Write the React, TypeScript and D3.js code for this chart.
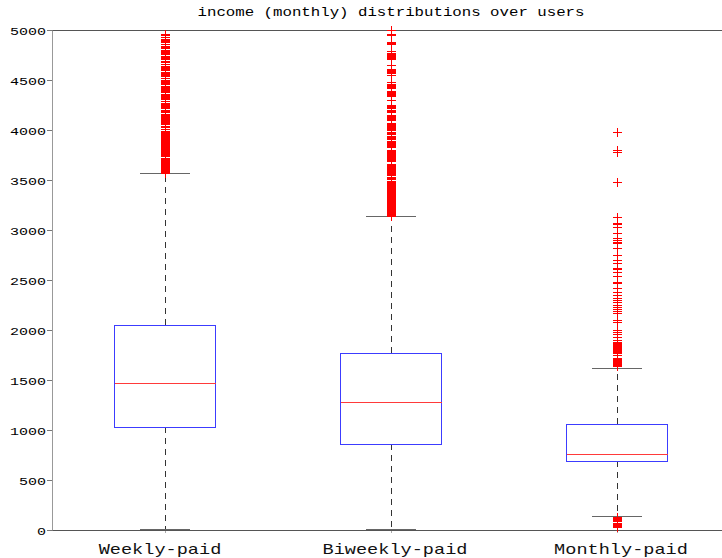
import React, { useEffect, useRef } from "react";
import * as d3 from "d3";

// box statistics (income, monthly)
const categories = ["Weekly-paid", "Biweekly-paid", "Monthly-paid"];
const q1 = [1027, 860, 690];
const medians = [1470, 1273, 753];
const q3 = [2047, 1767, 1060];
const whiskerLow = [8, 3, 133];
const whiskerHigh = [3567, 3133, 1617];
const yTicks = [0, 500, 1000, 1500, 2000, 2500, 3000, 3500, 4000, 4500, 5000];

// outliers ('+' markers), one array per group
const weeklyOutliers = [
  4960, 4950, 4930, 4910, 4900, 4890, 4880, 4860, 4840, 4830, 4820, 4800, 4790, 4780,
  4770, 4760, 4740, 4730, 4720, 4710, 4690, 4680, 4660, 4640, 4630, 4620, 4610, 4600,
  4580, 4570, 4560, 4550, 4540, 4520, 4500, 4490, 4480, 4470, 4460, 4440, 4430, 4420,
  4410, 4400, 4390, 4380, 4360, 4350, 4340, 4330, 4320, 4310, 4290, 4270, 4260, 4250,
  4240, 4230, 4220, 4200, 4190, 4180, 4160, 4150, 4140, 4130, 4120, 4110, 4100, 4090,
  4080, 4070, 4060, 4040, 4030, 4010, 3990, 3980, 3970, 3960, 3950, 3940, 3930, 3920,
  3910, 3900, 3890, 3880, 3870, 3860, 3850, 3840, 3830, 3820, 3810, 3800, 3790, 3780,
  3770, 3760, 3750, 3740, 3720, 3710, 3700, 3690, 3680, 3670, 3660, 3650, 3640, 3630,
  3620, 3610, 3600, 3590, 3580, 3570,
];
const biweeklyOutliers = [
  5000, 4960, 4950, 4880, 4870, 4860, 4790, 4770, 4760, 4750, 4740, 4730, 4720, 4710,
  4650, 4610, 4600, 4590, 4580, 4570, 4550, 4480, 4460, 4450, 4440, 4430, 4420, 4390,
  4380, 4370, 4360, 4350, 4340, 4300, 4250, 4240, 4230, 4220, 4200, 4190, 4180, 4150,
  4140, 4130, 4120, 4110, 4100, 4070, 4060, 4050, 4040, 4030, 4020, 4010, 4000, 3980,
  3970, 3960, 3940, 3930, 3920, 3910, 3890, 3880, 3870, 3860, 3850, 3840, 3830, 3800,
  3790, 3780, 3770, 3760, 3750, 3740, 3730, 3720, 3710, 3700, 3690, 3660, 3650, 3640,
  3630, 3620, 3610, 3600, 3590, 3580, 3570, 3560, 3550, 3530, 3520, 3510, 3490, 3480,
  3470, 3460, 3450, 3440, 3430, 3420, 3410, 3400, 3390, 3380, 3370, 3360, 3350, 3340,
  3330, 3320, 3310, 3300, 3290, 3280, 3270, 3260, 3250, 3240, 3230, 3220, 3210, 3200,
  3190, 3180, 3170, 3160, 3150, 3140,
];
const monthlyOutliers = [
  3980, 3800, 3780, 3480, 3130, 3070, 3060, 3030, 2970, 2920, 2900, 2880, 2870, 2820,
  2750, 2700, 2670, 2620, 2610, 2580, 2540, 2480, 2470, 2420, 2380, 2350, 2320, 2300,
  2280, 2250, 2230, 2210, 2190, 2170, 2100, 2080, 2000, 1980, 1960, 1930, 1900, 1880,
  1870, 1860, 1850, 1840, 1830, 1820, 1810, 1800, 1790, 1780, 1770, 1750, 1720, 1710,
  1700, 1690, 1680, 1670, 1660, 1650, 1640,
  130, 120, 110, 100, 90, 70, 60, 50, 40, 30,
];
const outliers = [weeklyOutliers, biweeklyOutliers, monthlyOutliers];

const W = 722;
const H = 558;
const mono = "'Liberation Mono', 'DejaVu Sans Mono', monospace";

export default function App() {
  const ref = useRef<SVGSVGElement>(null);

  useEffect(() => {
    const svg = d3.select(ref.current);
    svg.selectAll("*").remove();

    // positions 1..3 with limits 0.5..3.5, right edge runs off the canvas
    const x = d3.scaleLinear().domain([0.5, 3.5]).range([52, 730]);
    const y = d3.scaleLinear().domain([0, 5000]).range([530, 30]);
    const boxHalf = 50.5;
    const capHalf = 25;

    // title
    svg.append("text")
      .attr("x", 391)
      .attr("y", 16)
      .attr("text-anchor", "middle")
      .attr("font-family", mono)
      .attr("font-size", 13)
      .attr("textLength", 387)
      .attr("lengthAdjust", "spacingAndGlyphs")
      .text("income (monthly) distributions over users");

    // frame: top and bottom lines
    svg.append("line")
      .attr("x1", 52).attr("x2", W)
      .attr("y1", y(5000) + 0.5).attr("y2", y(5000) + 0.5)
      .attr("stroke", "#555");
    svg.append("line")
      .attr("x1", 52).attr("x2", W)
      .attr("y1", y(0) + 0.5).attr("y2", y(0) + 0.5)
      .attr("stroke", "#555");

    // y axis
    const yAxis = svg.append("g")
      .attr("transform", "translate(52,0)")
      .call(
        d3.axisLeft(y)
          .tickValues(yTicks)
          .tickFormat(d3.format("d"))
          .tickSize(5)
          .tickSizeOuter(0)
          .tickPadding(1)
      );
    yAxis.select(".domain").attr("stroke", "#999");
    yAxis.selectAll(".tick line").attr("stroke", "#777");
    yAxis.selectAll<SVGTextElement, number>(".tick text")
      .attr("font-family", mono)
      .attr("font-size", 11)
      .attr("fill", "#000")
      .attr("dy", "0.38em")
      .attr("textLength", (d) => String(d).length * 9)
      .attr("lengthAdjust", "spacingAndGlyphs");

    // small x ticks
    svg.append("g").selectAll("line")
      .data(categories)
      .join("line")
      .attr("x1", (_, i) => x(i + 1) + 0.5)
      .attr("x2", (_, i) => x(i + 1) + 0.5)
      .attr("y1", y(0) + 1)
      .attr("y2", y(0) + 3)
      .attr("stroke", "#aaa");

    // category labels
    const labelShift = [-5, 4, 4];
    const labelBase = [553.5, 554, 553.5];
    svg.append("g").selectAll("text")
      .data(categories)
      .join("text")
      .attr("x", (_, i) => x(i + 1) + labelShift[i])
      .attr("y", (_, i) => labelBase[i])
      .attr("text-anchor", "middle")
      .attr("font-family", mono)
      .attr("font-size", 15)
      .attr("fill", "#111")
      .attr("textLength", (d) => d.length * 11.15)
      .attr("lengthAdjust", "spacingAndGlyphs")
      .text((d) => d);

    const g = svg.append("g").attr("shape-rendering", "crispEdges");
    const idx = d3.range(categories.length);

    // whiskers (dashed)
    g.selectAll(".whiskUp")
      .data(idx)
      .join("line")
      .attr("x1", (i) => x(i + 1) + 0.5)
      .attr("x2", (i) => x(i + 1) + 0.5)
      .attr("y1", (i) => y(q3[i]))
      .attr("y2", (i) => y(whiskerHigh[i]))
      .attr("stroke", "#333")
      .attr("stroke-dasharray", "6,5");
    g.selectAll(".whiskDown")
      .data(idx)
      .join("line")
      .attr("x1", (i) => x(i + 1) + 0.5)
      .attr("x2", (i) => x(i + 1) + 0.5)
      .attr("y1", (i) => y(q1[i]))
      .attr("y2", (i) => y(whiskerLow[i]))
      .attr("stroke", "#333")
      .attr("stroke-dasharray", "6,5");

    // whisker caps
    const caps = idx.flatMap((i) => [
      { i, v: whiskerHigh[i] },
      { i, v: whiskerLow[i] },
    ]);
    g.selectAll(".cap")
      .data(caps)
      .join("line")
      .attr("x1", (d) => x(d.i + 1) - capHalf)
      .attr("x2", (d) => x(d.i + 1) + capHalf)
      .attr("y1", (d) => y(d.v))
      .attr("y2", (d) => y(d.v))
      .attr("stroke", "#666");

    // boxes
    g.selectAll(".box")
      .data(idx)
      .join("rect")
      .attr("x", (i) => x(i + 1) - boxHalf)
      .attr("y", (i) => y(q3[i]))
      .attr("width", boxHalf * 2)
      .attr("height", (i) => y(q1[i]) - y(q3[i]))
      .attr("fill", "none")
      .attr("stroke", "#3c3cff");

    // medians
    g.selectAll(".median")
      .data(idx)
      .join("line")
      .attr("x1", (i) => x(i + 1) - boxHalf)
      .attr("x2", (i) => x(i + 1) + boxHalf)
      .attr("y1", (i) => y(medians[i]))
      .attr("y2", (i) => y(medians[i]))
      .attr("stroke", "#ff3a3a");

    // outliers as '+'
    const pts = idx.flatMap((i) => outliers[i].map((v) => ({ i, v })));
    g.selectAll(".out")
      .data(pts)
      .join("path")
      .attr("d", (d) => {
        const cx = x(d.i + 1) + 0.5;
        const cy = y(d.v) + 0.5;
        return `M${cx - 4.5},${cy}h9M${cx},${cy - 4.5}v9`;
      })
      .attr("fill", "none")
      .attr("stroke", "#ff0000");
  }, []);

  return (
    <div style={{ position: "absolute", left: 0, top: 0 }}>
      <svg ref={ref} width={W} height={H} style={{ display: "block", background: "#fff" }} />
    </div>
  );
}
